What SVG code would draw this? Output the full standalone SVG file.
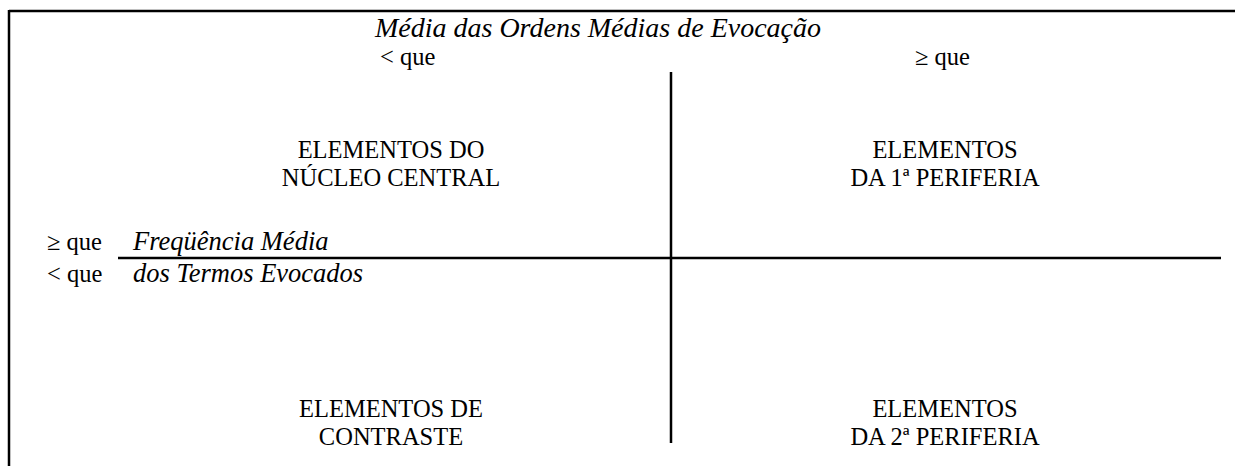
<svg xmlns="http://www.w3.org/2000/svg" width="1235" height="466" viewBox="0 0 1235 466">
<style>
.t{font-family:'Liberation Serif','Times New Roman',serif;font-size:24.5px;fill:#000}
.i{font-style:italic;font-size:26.5px}
.ti{font-size:28px}
.c{text-anchor:middle}
.ln{stroke:#000;stroke-width:2.5;fill:none}
</style>
<rect width="1235" height="466" fill="#fff"/>
<g id="connectors">
<line class="ln" x1="9" y1="11" x2="1235" y2="11"/>
<line class="ln" x1="9" y1="10" x2="9" y2="466"/>
<line class="ln" x1="671" y1="72" x2="671" y2="443"/>
<line class="ln" x1="118" y1="258" x2="1221" y2="258"/>
</g>
<g class="t" font-family="Liberation Serif, serif">
<g id="header">
<text class="i ti c" x="598" y="37">Média das Ordens Médias de Evocação</text>
<text x="380" y="65">&lt; que</text>
<text x="915" y="65">≥ que</text>
</g>
<g id="nucleo"><text class="c" x="391" y="158">ELEMENTOS DO</text><text class="c" x="391" y="186">NÚCLEO CENTRAL</text></g>
<g id="periferia1"><text class="c" x="945" y="158">ELEMENTOS</text><text class="c" x="945" y="186">DA 1ª PERIFERIA</text></g>
<g id="freq">
<text x="47" y="250">≥ que</text><text class="i" x="133" y="250">Freqüência Média</text>
<text x="47" y="282">&lt; que</text><text class="i" x="133" y="282">dos Termos Evocados</text>
</g>
<g id="contraste"><text class="c" x="391" y="417">ELEMENTOS DE</text><text class="c" x="391" y="445">CONTRASTE</text></g>
<g id="periferia2"><text class="c" x="945" y="417">ELEMENTOS</text><text class="c" x="945" y="445">DA 2ª PERIFERIA</text></g>
</g>
</svg>
